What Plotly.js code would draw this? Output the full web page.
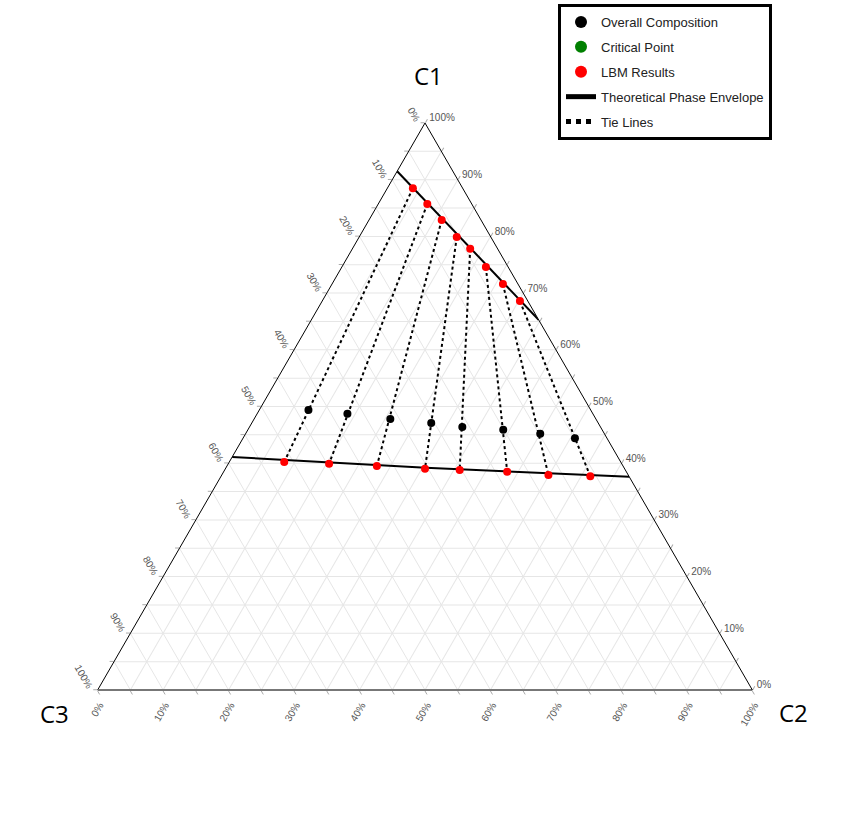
<!DOCTYPE html>
<html>
<head>
<meta charset="utf-8">
<script src="https://cdn.plot.ly/plotly-3.0.1.min.js"></script>
<style>
  body { margin: 0; background: #fff; }
  #plot { width: 852px; height: 829px; }
</style>
</head>
<body>
<div id="plot"></div>
<script>
// compositions in % : C1 (top), C2 (bottom right), C3 (bottom left)
overallC1 = [49.4, 48.7, 47.8, 47.1, 46.4, 45.9, 45.2, 44.4];
overallC2 = [7.5, 13.8, 20.8, 27.4, 32.5, 39.0, 45.0, 50.7];
overallC3 = [43.1, 37.5, 31.4, 25.5, 21.1, 15.1, 9.8, 4.9];

// LBM results, upper (C1 rich) and lower branch
lbmUpC1 = [88.5, 85.7, 82.9, 79.9, 77.8, 74.6, 71.6, 68.6];
lbmUpC2 = [3.9, 7.5, 11.1, 14.9, 18.0, 22.0, 26.1, 30.2];
lbmUpC3 = [7.6, 6.8, 6.0, 5.2, 4.2, 3.4, 2.3, 1.2];
lbmLoC1 = [40.2, 39.9, 39.5, 39.0, 38.8, 38.5, 37.9, 37.7];
lbmLoC2 = [8.4, 15.4, 22.9, 30.5, 35.9, 43.3, 49.9, 56.4];
lbmLoC3 = [51.4, 44.7, 37.6, 30.5, 25.3, 18.2, 12.2, 5.9];

// theoretical phase envelope (two branches)
envUpC1 = [91.5, 65.3];
envUpC2 = [0, 34.7];
envUpC3 = [8.5, 0];
envLoC1 = [41.1, 39.2, 37.6];
envLoC2 = [0, 30.5, 62.4];
envLoC3 = [58.9, 30.3, 0];

// critical point: legend entry only, no point visible in the figure
critC1 = [null];
critC2 = [null];
critC3 = [null];

tickVals = [];
for (let v = 0; v <= 100; v += 5) tickVals.push(v);

// printed value on every edge is 100 - plotly value (labels read the other component)
function revText(vals) {
    return vals.map(v => v % 10 == 0 ? (100 - v) + '%' : '');
}

// tie lines: upper LBM point -> lower LBM point
tieA = []; tieB = []; tieC = [];
for (let i = 0; i < lbmUpC1.length; i++) {
    tieA.push(lbmUpC1[i], lbmLoC1[i], null);
    tieB.push(lbmUpC3[i], lbmLoC3[i], null);
    tieC.push(lbmUpC2[i], lbmLoC2[i], null);
}

traces = [
    {
        type: 'scatterternary', mode: 'lines', name: 'Theoretical Phase Envelope',
        a: envUpC1.concat([null], envLoC1),
        b: envUpC3.concat([null], envLoC3),
        c: envUpC2.concat([null], envLoC2),
        line: {color: 'black', width: 2}, legendgroup: 'g4', legendrank: 4
    },
    {
        type: 'scatterternary', mode: 'lines', name: 'Tie Lines',
        a: tieA, b: tieB, c: tieC,
        line: {color: 'black', width: 2, dash: 'dot'}, legendgroup: 'g5', legendrank: 5
    },
    {
        type: 'scatterternary', mode: 'markers', name: 'Overall Composition',
        a: overallC1, b: overallC3, c: overallC2,
        marker: {color: 'black', size: 8}, legendgroup: 'g1', legendrank: 1
    },
    {
        type: 'scatterternary', mode: 'markers', name: 'Critical Point',
        a: critC1, b: critC3, c: critC2,
        marker: {color: 'green', size: 8}, legendgroup: 'g2', legendrank: 2
    },
    {
        type: 'scatterternary', mode: 'markers', name: 'LBM Results',
        a: lbmUpC1.concat(lbmLoC1), b: lbmUpC3.concat(lbmLoC3), c: lbmUpC2.concat(lbmLoC2),
        marker: {color: 'red', size: 8}, legendgroup: 'g3', legendrank: 3
    }
];

axisBase = {
    tickmode: 'array',
    tickvals: tickVals,
    ticks: 'outside', ticklen: 4, tickcolor: '#aaa',
    tickfont: {size: 10, color: '#555', family: 'Arial, Liberation Sans, sans-serif'},
    gridcolor: '#e6e6e6', gridwidth: 1,
    showline: true, linecolor: 'black', linewidth: 1,
    title: {text: ''},
    min: 0
};

titleFont = {size: 24, color: 'black', family: 'Open Sans, sans-serif'};

layout = {
    width: 852, height: 829,
    margin: {l: 0, r: 0, t: 0, b: 0},
    paper_bgcolor: 'white',
    showlegend: true,
    ternary: {
        sum: 100,
        domain: {x: [97 / 852, 753 / 852], y: [1 - 690 / 829, 1 - 123 / 829]},
        bgcolor: 'white',
        aaxis: Object.assign({}, axisBase, {ticktext: revText(tickVals), tickangle: 60}),
        baxis: Object.assign({}, axisBase, {ticktext: revText(tickVals), tickangle: -60, linecolor: '#777', linewidth: 2}),
        caxis: Object.assign({}, axisBase, {ticktext: revText(tickVals), tickangle: 0})
    },
    annotations: [
        {text: 'C1', x: 428 / 852, y: 1 - 75 / 829},
        {text: 'C3', x: 54 / 852, y: 1 - 713 / 829},
        {text: 'C2', x: 793 / 852, y: 1 - 712 / 829}
    ].map(t => Object.assign(t, {
        xref: 'paper', yref: 'paper', xanchor: 'center', yanchor: 'middle',
        showarrow: false, font: titleFont
    })),
    legend: {
        x: 558 / 852, y: 1 - 4 / 829, xanchor: 'left', yanchor: 'top',
        bordercolor: 'black', borderwidth: 3, bgcolor: 'white',
        font: {size: 13, color: '#222', family: 'Arial, Liberation Sans, sans-serif'},
        traceorder: 'grouped', tracegroupgap: 5, itemsizing: 'constant',
        entrywidth: 245
    }
};

Plotly.newPlot('plot', traces, layout, {displayModeBar: false});
</script>
</body>
</html>
